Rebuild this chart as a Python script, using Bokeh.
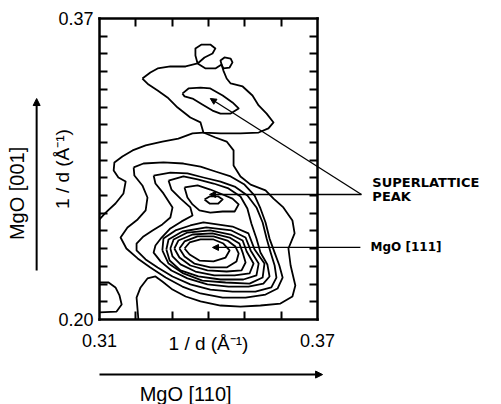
from bokeh.plotting import figure
from bokeh.models import (FixedTicker, PrintfTickFormatter, LinearAxis, Range1d,
                          Label, Arrow, NormalHead)
from bokeh.embed import file_html
from bokeh.resources import INLINE

# ---------------- data (axis units 1/d in 1/Angstrom) -------------
x_major_ticks = [0.31, 0.37]
x_minor_ticks = [0.32, 0.33, 0.34, 0.35, 0.36]
y_major_ticks = [0.20, 0.37]
y_minor_ticks = [0.21, 0.22, 0.23, 0.24, 0.25, 0.26, 0.27, 0.28, 0.29, 0.30,
                 0.31, 0.32, 0.33, 0.34, 0.35, 0.36]

# upper (superlattice) region
u1_x = [.3218, .3240, .3260, .3295, .3337, .3370, .3392, .3419, .3436, .3441, .3450, .3461, .3494, .3521, .3538,
        .3560, .3579, .3565, .3538, .3488, .3433, .3386, .3378, .3350, .3315, .3287, .3260, .3235, .3218]
u1_y = [.3361, .3395, .3418, .3429, .3429, .3446, .3418, .3418, .3440, .3406, .3361, .3333, .3316, .3265, .3209,
        .3163, .3113, .3079, .3056, .3051, .3051, .3056, .3113, .3141, .3197, .3254, .3293, .3327, .3361]
ua_x = [.3370, .3364, .3364, .3381, .3405, .3419, .3411, .3389, .3370]
ua_y = [.3446, .3491, .3531, .3553, .3553, .3531, .3502, .3480, .3446]
ub_x = [.3436, .3433, .3444, .3461, .3466, .3458, .3441, .3436]
ub_y = [.3440, .3463, .3480, .3474, .3452, .3423, .3418, .3440]
u2_x = [.3328, .3345, .3378, .3405, .3439, .3466, .3483, .3461, .3433, .3411, .3383, .3356, .3334, .3328]
u2_y = [.3276, .3305, .3310, .3305, .3265, .3226, .3192, .3163, .3163, .3180, .3214, .3248, .3260, .3276]

# lower region, outermost level (open, meets the frame)
l1_x = [.3100, .3117, .3144, .3166, .3172, .3152, .3139, .3141, .3163, .3191, .3227, .3273, .3317, .3356, .3386,
        .3419, .3450, .3469, .3469, .3488, .3516, .3557, .3579, .3606, .3631, .3637, .3620, .3626, .3639, .3631,
        .3598, .3543, .3488, .3433, .3378, .3337, .3301, .3273, .3254, .3232, .3213, .3202, .3205, .3207]
l1_y = [.2565, .2604, .2655, .2712, .2779, .2802, .2842, .2887, .2921, .2955, .2983, .3005, .3022, .3051, .3056,
        .3028, .3005, .2955, .2870, .2808, .2762, .2729, .2683, .2633, .2559, .2486, .2401, .2305, .2192, .2130,
        .2090, .2079, .2073, .2079, .2102, .2130, .2169, .2215, .2243, .2232, .2181, .2124, .2051, .2000]
b1_x = [.3100, .3125, .3144, .3155, .3161, .3147, .3100]
b1_y = [.2209, .2209, .2181, .2136, .2085, .2045, .2040]

l2_x = [.3194, .3221, .3276, .3331, .3378, .3419, .3461, .3499, .3527, .3543, .3557, .3568, .3582, .3595, .3604,
        .3590, .3557, .3502, .3439, .3378, .3328, .3282, .3240, .3205, .3174, .3158, .3177, .3205, .3227, .3232,
        .3218, .3196, .3194]
l2_y = [.2859, .2881, .2887, .2881, .2864, .2836, .2808, .2762, .2700, .2627, .2548, .2457, .2378, .2305, .2237,
        .2175, .2141, .2124, .2124, .2147, .2186, .2237, .2294, .2345, .2401, .2463, .2520, .2565, .2616, .2689,
        .2757, .2813, .2859]
l3_x = [.3249, .3295, .3342, .3386, .3433, .3472, .3507, .3532, .3549, .3560, .3571, .3582, .3587, .3573, .3529,
        .3466, .3405, .3350, .3301, .3260, .3227, .3202, .3202, .3221, .3246, .3273, .3295, .3301, .3276, .3254,
        .3249]
l3_y = [.2813, .2830, .2825, .2802, .2779, .2751, .2700, .2633, .2548, .2457, .2378, .2305, .2237, .2181, .2158,
        .2158, .2169, .2198, .2243, .2294, .2339, .2390, .2429, .2469, .2503, .2537, .2576, .2633, .2712, .2768,
        .2813]
l4_x = [.3290, .3331, .3370, .3414, .3455, .3488, .3507, .3518, .3532, .3543, .3562, .3568, .3551, .3510, .3455,
        .3397, .3342, .3298, .3268, .3249, .3254, .3271, .3295, .3326, .3356, .3350, .3323, .3298, .3290]
l4_y = [.2785, .2808, .2791, .2768, .2740, .2695, .2627, .2542, .2457, .2378, .2311, .2243, .2203, .2186, .2186,
        .2198, .2232, .2277, .2328, .2378, .2418, .2463, .2514, .2554, .2587, .2633, .2683, .2734, .2785]
# superlattice lobe of the lower region
s1_x = [.3334, .3370, .3405, .3439, .3466, .3483, .3472, .3439, .3405, .3375, .3356, .3342, .3334]
s1_y = [.2746, .2757, .2734, .2706, .2683, .2650, .2610, .2610, .2604, .2616, .2650, .2689, .2746]
s2_x = [.3389, .3403, .3427, .3439, .3427, .3403, .3389]
s2_y = [.2678, .2695, .2695, .2678, .2655, .2655, .2678]
# MgO[111] peak nest
m1_x = [.3334, .3348, .3378, .3414, .3441, .3458, .3447, .3414, .3375, .3348, .3334]
m1_y = [.2401, .2435, .2452, .2452, .2429, .2390, .2350, .2328, .2333, .2367, .2401]
m2_x = [.3320, .3334, .3370, .3414, .3452, .3474, .3483, .3477, .3450, .3405, .3361, .3334, .3320]
m2_y = [.2401, .2441, .2469, .2469, .2446, .2412, .2373, .2328, .2294, .2294, .2316, .2356, .2401]
m3_x = [.3306, .3317, .3356, .3411, .3458, .3485, .3494, .3502, .3491, .3450, .3397, .3350, .3320, .3306]
m3_y = [.2401, .2446, .2480, .2486, .2463, .2429, .2378, .2322, .2277, .2271, .2277, .2305, .2350, .2401]
m4_x = [.3295, .3304, .3342, .3405, .3461, .3494, .3505, .3524, .3513, .3472, .3416, .3364, .3323, .3301, .3295]
m4_y = [.2401, .2452, .2491, .2503, .2480, .2446, .2384, .2316, .2260, .2249, .2249, .2271, .2311, .2356, .2401]
m5_x = [.3284, .3290, .3328, .3394, .3463, .3502, .3516, .3538, .3532, .3496, .3433, .3372, .3323, .3293, .3284]
m5_y = [.2395, .2452, .2497, .2520, .2503, .2463, .2390, .2316, .2249, .2226, .2226, .2243, .2277, .2333, .2395]
m6_x = [.3273, .3276, .3309, .3350, .3386, .3466, .3510, .3527, .3554, .3549, .3513, .3447, .3383, .3331, .3290,
        .3273]
m6_y = [.2390, .2457, .2503, .2531, .2548, .2525, .2486, .2395, .2316, .2237, .2203, .2209, .2220, .2260, .2316,
        .2390]

# marked peaks
sl_peak_upper = (0.3405, 0.3248)
sl_peak_lower = (0.3403, 0.2706)
mgo111_peak = (0.3411, 0.2407)

contour_xs = [u1_x, ua_x, ub_x, u2_x, l1_x, b1_x, l2_x, l3_x, l4_x, s1_x, s2_x,
              m1_x, m2_x, m3_x, m4_x, m5_x, m6_x]
contour_ys = [u1_y, ua_y, ub_y, u2_y, l1_y, b1_y, l2_y, l3_y, l4_y, s1_y, s2_y,
              m1_y, m2_y, m3_y, m4_y, m5_y, m6_y]

# ---------------- figure -----------------------------------------------------------------
# The frame fills the whole canvas; the plot box (0.31-0.37 x 0.20-0.37) is drawn by
# axes placed at fixed locations, so labels and leader lines outside the box stay visible.
p = figure(x_range=Range1d(0.282752, 0.420642), y_range=Range1d(0.151994, 0.380166),
           width=501, height=404, min_border=0,
           min_border_left=0, min_border_right=0, min_border_top=0, min_border_bottom=0,
           x_axis_location=None, y_axis_location=None,
           output_backend="svg", toolbar_location=None)
p.xgrid.visible = False
p.ygrid.visible = False
p.outline_line_color = None
p.background_fill_color = "white"
p.border_fill_color = "white"

TICK_FONT = "Liberation Sans"


def make_axis(majors, minors, loc, bounds, labelled):
    ax = LinearAxis(ticker=FixedTicker(ticks=majors if labelled else [], minor_ticks=minors),
                    fixed_location=loc, bounds=bounds)
    ax.axis_line_width = 2.5
    ax.axis_line_color = "black"
    ax.axis_line_cap = "square"
    ax.major_tick_in = 0
    ax.major_tick_out = 0
    ax.minor_tick_in = 8
    ax.minor_tick_out = 0
    ax.minor_tick_line_width = 2
    ax.minor_tick_line_color = "black"
    if labelled:
        ax.formatter = PrintfTickFormatter(format="%.2f")
        ax.major_label_text_font = TICK_FONT
        ax.major_label_text_font_size = "18px"
        ax.major_label_text_color = "black"
        ax.axis_label_text_color = "black"
    return ax


xb = make_axis(x_major_ticks, x_minor_ticks, 0.20, (0.31, 0.37), True)
xt = make_axis(x_major_ticks, x_minor_ticks, 0.37, (0.31, 0.37), False)
yl = make_axis(y_major_ticks, y_minor_ticks, 0.31, (0.20, 0.37), True)
yr = make_axis(y_major_ticks, y_minor_ticks, 0.37, (0.20, 0.37), False)

xb.major_label_standoff = 14
xb.axis_label = "1 / d (Å⁻¹)"
xb.axis_label_text_font = TICK_FONT
xb.axis_label_text_font_size = "19px"
xb.axis_label_text_font_style = "normal"
xb.axis_label_standoff = -17

yl.major_label_standoff = 6
yl.axis_label = "1 / d (Å⁻¹)"
yl.axis_label_text_font = TICK_FONT
yl.axis_label_text_font_size = "19px"
yl.axis_label_text_font_style = "normal"
yl.axis_label_standoff = -18

p.add_layout(xb, "below")
p.add_layout(xt, "above")
p.add_layout(yl, "left")
p.add_layout(yr, "right")

# contours
p.multi_line(xs=contour_xs, ys=contour_ys, line_color="black", line_width=1.8,
             line_join="round")

# annotations: leader lines to the marked peaks
joint = (0.3821, 0.2706)
for tgt in (sl_peak_upper, sl_peak_lower):
    p.add_layout(Arrow(end=NormalHead(size=6, fill_color="black", line_color="black"),
                       x_start=joint[0], y_start=joint[1], x_end=tgt[0], y_end=tgt[1],
                       line_width=1.3, line_color="black"))
p.add_layout(Arrow(end=NormalHead(size=6, fill_color="black", line_color="black"),
                   x_start=0.3818, y_start=mgo111_peak[1], x_end=mgo111_peak[0], y_end=mgo111_peak[1],
                   line_width=1.3, line_color="black"))

LBL_FONT = "DejaVu Sans"
p.add_layout(Label(x=0.3851, y=0.2774, text="SUPERLATTICE", text_font=LBL_FONT,
                   text_font_size="13px", text_font_style="bold", text_baseline="middle",
                   text_color="black"))
p.add_layout(Label(x=0.3851, y=0.2695, text="PEAK", text_font=LBL_FONT,
                   text_font_size="13px", text_font_style="bold", text_baseline="middle",
                   text_color="black"))
p.add_layout(Label(x=0.3846, y=0.2407, text="MgO [111]", text_font=LBL_FONT,
                   text_font_size="12px", text_font_style="bold", text_baseline="middle",
                   text_color="black"))

# crystal-direction titles with arrows
p.add_layout(Arrow(end=NormalHead(size=7, fill_color="black", line_color="black"),
                   x_start=0.2927, y_start=0.2277, x_end=0.2927, y_end=0.3248,
                   line_width=2, line_color="black"))
p.add_layout(Label(x=0.2872, y=0.2712, text="MgO [001]", angle=1.5708,
                   text_font=TICK_FONT, text_font_size="20px", text_align="center",
                   text_baseline="middle", text_color="black"))
p.add_layout(Arrow(end=NormalHead(size=7, fill_color="black", line_color="black"),
                   x_start=0.3100, y_start=0.1689, x_end=0.3714, y_end=0.1689,
                   line_width=2, line_color="black"))
p.add_layout(Label(x=0.3337, y=0.1582, text="MgO [110]",
                   text_font=TICK_FONT, text_font_size="20px", text_align="center",
                   text_baseline="middle", text_color="black"))

open("out.html", "w").write(file_html(p, INLINE))
